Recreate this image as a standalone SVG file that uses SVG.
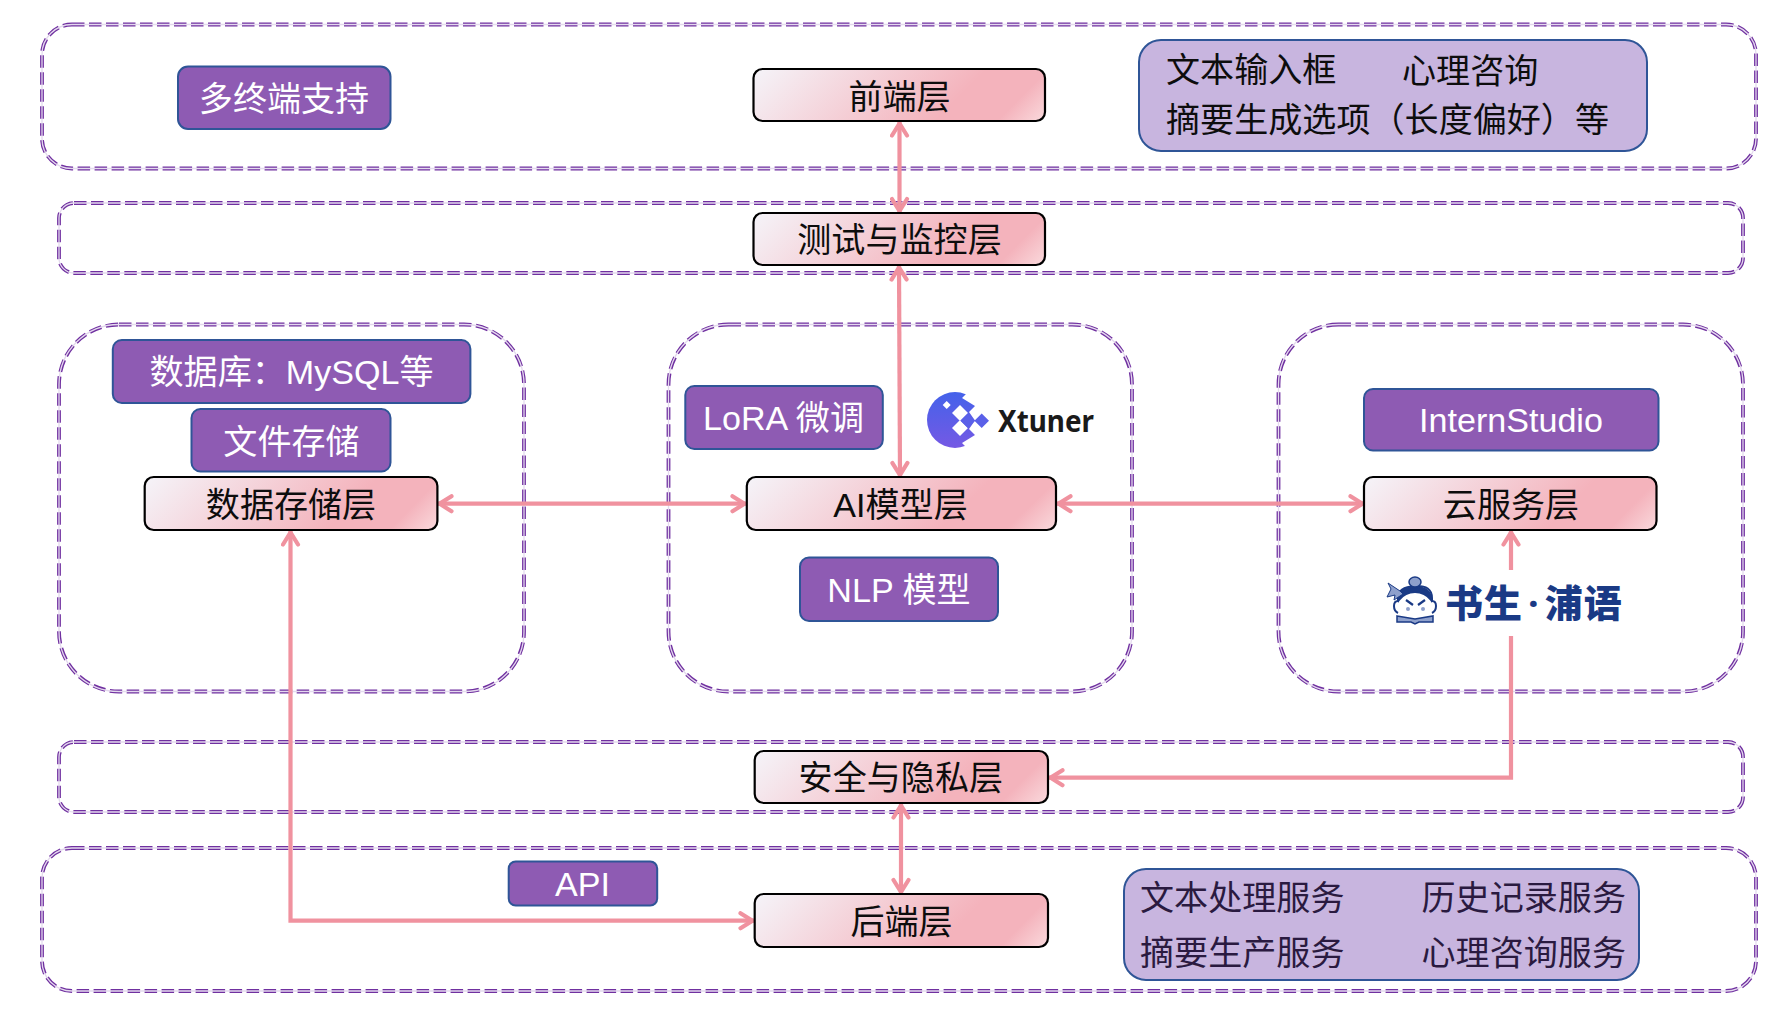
<svg xmlns="http://www.w3.org/2000/svg" width="1787" height="1014" viewBox="0 0 1787 1014">
<defs>
<style>
text{font-family:"Liberation Sans","Noto Sans CJK SC",sans-serif;font-size:34.100px;text-anchor:middle}
.zone{fill:none;stroke:#7030a0;stroke-width:3.8;stroke-dasharray:12.5 4.5}
.zone2{fill:none;stroke:#e4d9ee;stroke-width:1.3}
.layer{fill:url(#g);stroke:#000;stroke-width:2.2}
.tag{fill:#8e5bb3;stroke:#2f5597;stroke-width:2}
.note{fill:#c8b5df;stroke:#2f5597;stroke-width:2}
.w{fill:#fff}
.k{fill:#0d0d0d}
.p{fill:#2a1a40}
.start{text-anchor:start}
.c{fill:none;stroke:#f0929f;stroke-width:4.200}
</style>
<linearGradient id="g" x1="0" y1="0" x2="1.142" y2="0.203">
<stop offset="0" stop-color="#f5f4f9"/><stop offset="0.68" stop-color="#f4b3bc"/><stop offset="0.86" stop-color="#f4b3bc"/><stop offset="1" stop-color="#fadadd"/>
</linearGradient>
<linearGradient id="lg" x1="0" y1="0" x2="0" y2="1"><stop offset="0" stop-color="#4462ea"/><stop offset="1" stop-color="#7559e4"/></linearGradient>
<marker id="a" viewBox="0 0 18 20" refX="16.500" refY="10" markerWidth="18" markerHeight="20" markerUnits="userSpaceOnUse" orient="auto-start-reverse">
<path d="M3 2.500L15 10L3 17.500" fill="none" stroke="#f0929f" stroke-width="4.200" stroke-linecap="round"/>
</marker>
<rect id="z1" x="42" y="24.500" width="1714" height="144" rx="30"/>
<rect id="z2" x="59" y="203" width="1684" height="70" rx="15"/>
<rect id="z3" x="59" y="324.500" width="465" height="367" rx="60"/>
<rect id="z4" x="668.500" y="324.500" width="463.500" height="367" rx="60"/>
<rect id="z5" x="1278.500" y="324.500" width="464.500" height="367" rx="60"/>
<rect id="z6" x="59" y="742" width="1684" height="70" rx="15"/>
<rect id="z7" x="42" y="848" width="1714" height="143" rx="30"/>
</defs>
<rect width="1787" height="1014" fill="#fff"/>
<g id="zones">
<g class="zone"><use href="#z1"/><use href="#z2"/><use href="#z3"/><use href="#z4"/><use href="#z5"/><use href="#z6"/><use href="#z7"/></g>
<g class="zone2"><use href="#z1"/><use href="#z2"/><use href="#z3"/><use href="#z4"/><use href="#z5"/><use href="#z6"/><use href="#z7"/></g>
</g>
<g id="connectors" class="c">
<path d="M899.500 122V212.500" marker-start="url(#a)" marker-end="url(#a)"/>
<path d="M899 266L900 476.500" marker-start="url(#a)" marker-end="url(#a)"/>
<path d="M438 503.700H746" marker-start="url(#a)" marker-end="url(#a)"/>
<path d="M1057 503.700H1364" marker-start="url(#a)" marker-end="url(#a)"/>
<path d="M1511 570V531" marker-end="url(#a)"/>
<path d="M1511 636V777.700H1049" marker-end="url(#a)"/>
<path d="M901 804V893.500" marker-start="url(#a)" marker-end="url(#a)"/>
<path d="M754 920.700H290.500V531" marker-start="url(#a)" marker-end="url(#a)"/>
</g>
<g id="n-multi"><rect class="tag" x="178" y="66.500" width="212.500" height="62.500" rx="10"/><text class="w" x="284" y="111">多终端支持</text></g>
<g id="n-frontend"><rect class="layer" x="753.500" y="69" width="291.500" height="52" rx="9"/><text class="k" x="899.500" y="108.500">前端层</text></g>
<g id="n-ui"><rect class="note" x="1139" y="40" width="508" height="111" rx="22"/>
<text class="k start" x="1166" y="82">文本输入框</text><text class="k start" x="1402" y="83">心理咨询</text>
<text class="k start" x="1166" y="132">摘要生成选项（长度偏好）等</text></g>
<g id="n-test"><rect class="layer" x="753.500" y="213" width="291.500" height="52" rx="9"/><text class="k" x="899.500" y="251.500">测试与监控层</text></g>
<g id="n-db"><rect class="tag" x="112.800" y="340" width="357.600" height="63" rx="9"/><text class="w" x="291.500" y="384">数据库：MySQL等</text></g>
<g id="n-file"><rect class="tag" x="191.500" y="409" width="199" height="62.500" rx="9"/><text class="w" x="291.500" y="454">文件存储</text></g>
<g id="n-storage"><rect class="layer" x="144.700" y="477" width="292.700" height="53" rx="9"/><text class="k" x="291" y="516.500">数据存储层</text></g>
<g id="n-lora"><rect class="tag" x="685.300" y="386" width="197.500" height="63" rx="9"/><text class="w" x="783.500" y="430">LoRA 微调</text></g>
<g id="n-xtuner">
<circle cx="955" cy="420" r="28" fill="url(#lg)"/>
<path d="M968 392L962 398L975 406L969 412L975 420.500L969 429L975 435L962 443L968 449H990V392Z" fill="#fff"/>
<path d="M946.700 401l4 4l-4 4l-4-4zM960 405l8 8l-8 8l-8-8zM960 420l8 8l-8 8l-8-8z" fill="#fff"/>
<path d="M967.700 413.500l7.300 7.300l-7.300 7.300l-7.300-7.300zM981.700 413.500l7.300 7.300l-7.300 7.300l-7.300-7.300z" fill="#5a60e8"/>
<text class="start" x="998" y="432" textLength="96" lengthAdjust="spacingAndGlyphs" style="font-family:'Noto Sans',sans-serif;font-weight:700;font-size:30px" fill="#1a1a1a">Xtuner</text>
</g>
<g id="n-ai"><rect class="layer" x="746.800" y="477" width="309.200" height="53" rx="9"/><text class="k" x="900.500" y="516.500">AI模型层</text></g>
<g id="n-nlp"><rect class="tag" x="800" y="557.500" width="198" height="63.500" rx="9"/><text class="w" x="899" y="602">NLP 模型</text></g>
<g id="n-intern"><rect class="tag" x="1364" y="389" width="294.500" height="61.500" rx="9"/><text class="w" x="1511" y="432">InternStudio</text></g>
<g id="n-cloud"><rect class="layer" x="1364" y="477" width="292.500" height="53" rx="9"/><text class="k" x="1511" y="516.500">云服务层</text></g>
<g id="n-puyu">
<path d="M1398 613q-4-2-4-7t4-5v-3q0-11 17-12t17 12v3q4 0 4 5t-4 7" fill="#fff" stroke="#1a3a85" stroke-width="2"/>
<ellipse cx="1415" cy="610" rx="15" ry="8" fill="#fff"/>
<path d="M1399 600q0-13 16-13t16 13q-6-8-16-8t-16 8z" fill="#1a3a85" stroke="#1a3a85" stroke-width="2"/>
<ellipse cx="1415" cy="582" rx="6" ry="5" fill="#8ea0cc" stroke="#1a3a85" stroke-width="1.500"/>
<path d="M1400 591l-12-8l3 6l-4 8l8-2l-1 5l9-6z" fill="#8ea0cc" stroke="#1a3a85"/>
<path d="M1406 600l7 5M1425 600l-7 5" stroke="#1a3a85" stroke-width="2.200" fill="none"/>
<circle cx="1408" cy="609" r="2" fill="#8ea0cc"/><circle cx="1423" cy="609" r="2" fill="#8ea0cc"/>
<path d="M1397 616l18 3l18-3v6h-14l-4 2l-4-2h-14z" fill="#8ea0cc" stroke="#1a3a85" stroke-width="1.500"/>
<text class="start" x="1445" y="617" style="font-family:'Noto Sans CJK SC',sans-serif;font-weight:900;font-size:38px;letter-spacing:1px" fill="#1a3a85">书生<tspan dx="5" style="font-family:'Noto Sans',sans-serif;font-weight:700">·</tspan><tspan dx="5">浦语</tspan></text>
</g>
<g id="n-security"><rect class="layer" x="754.700" y="751" width="293.300" height="52" rx="9"/><text class="k" x="900.800" y="790">安全与隐私层</text></g>
<g id="n-api"><rect class="tag" x="508.700" y="861.500" width="148.500" height="44" rx="7"/><text class="w" x="582.500" y="896">API</text></g>
<g id="n-backend"><rect class="layer" x="754.700" y="894" width="293.300" height="53" rx="9"/><text class="k" x="901.500" y="933.500">后端层</text></g>
<g id="n-services"><rect class="note" x="1124" y="869" width="515" height="111" rx="22"/>
<text class="p start" x="1140" y="910">文本处理服务</text><text class="p start" x="1421.500" y="910">历史记录服务</text>
<text class="p start" x="1140" y="965">摘要生产服务</text><text class="p start" x="1421.500" y="965">心理咨询服务</text></g>
</svg>
